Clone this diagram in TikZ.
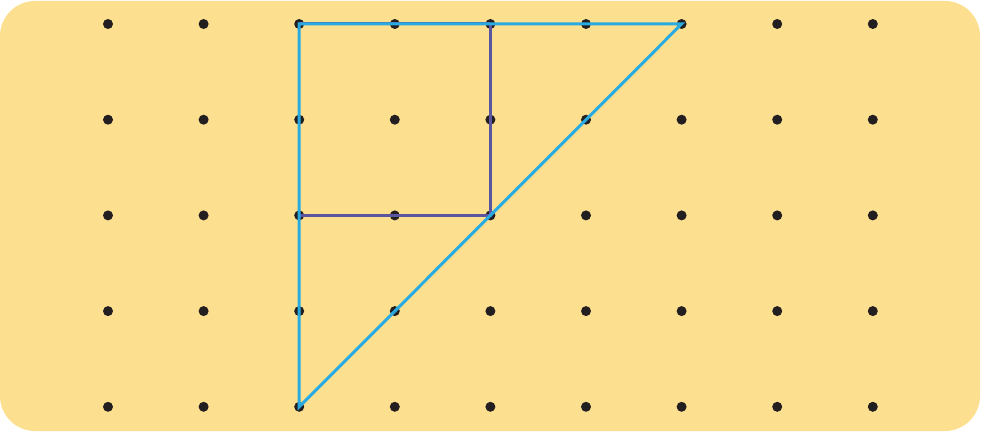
\documentclass[tikz,border=0pt]{standalone}
\definecolor{boardyellow}{HTML}{FDE08F}
\definecolor{dotblack}{HTML}{231F20}
\definecolor{lineblue}{HTML}{29ABE2}
\definecolor{linepurple}{HTML}{5B55A0}
\begin{document}
\begin{tikzpicture}[x=0.03cm,y=-0.03cm]
				\useasboundingbox (0,0) rectangle (982,432);
				\fill[boardyellow,rounded corners=1.05cm] (0,1) rectangle (980,431);
				
				\foreach \i in {0,...,8}{
					\foreach \j in {0,...,4}{
						\coordinate (d\i\j) at (108+95.6*\i,24+95.7*\j);
						\fill[dotblack] (d\i\j) circle (5);
					}
				}
				
				\draw[linepurple,line width=0.09cm] (d20) -- (d40);
				\draw[linepurple,line width=0.09cm] (d40) -- (d42) -- (d22);
				
				\draw[lineblue,line width=0.09cm,line join=miter] (d20) -- (d60) -- (d24) -- cycle;
			\end{tikzpicture}
\end{document}
